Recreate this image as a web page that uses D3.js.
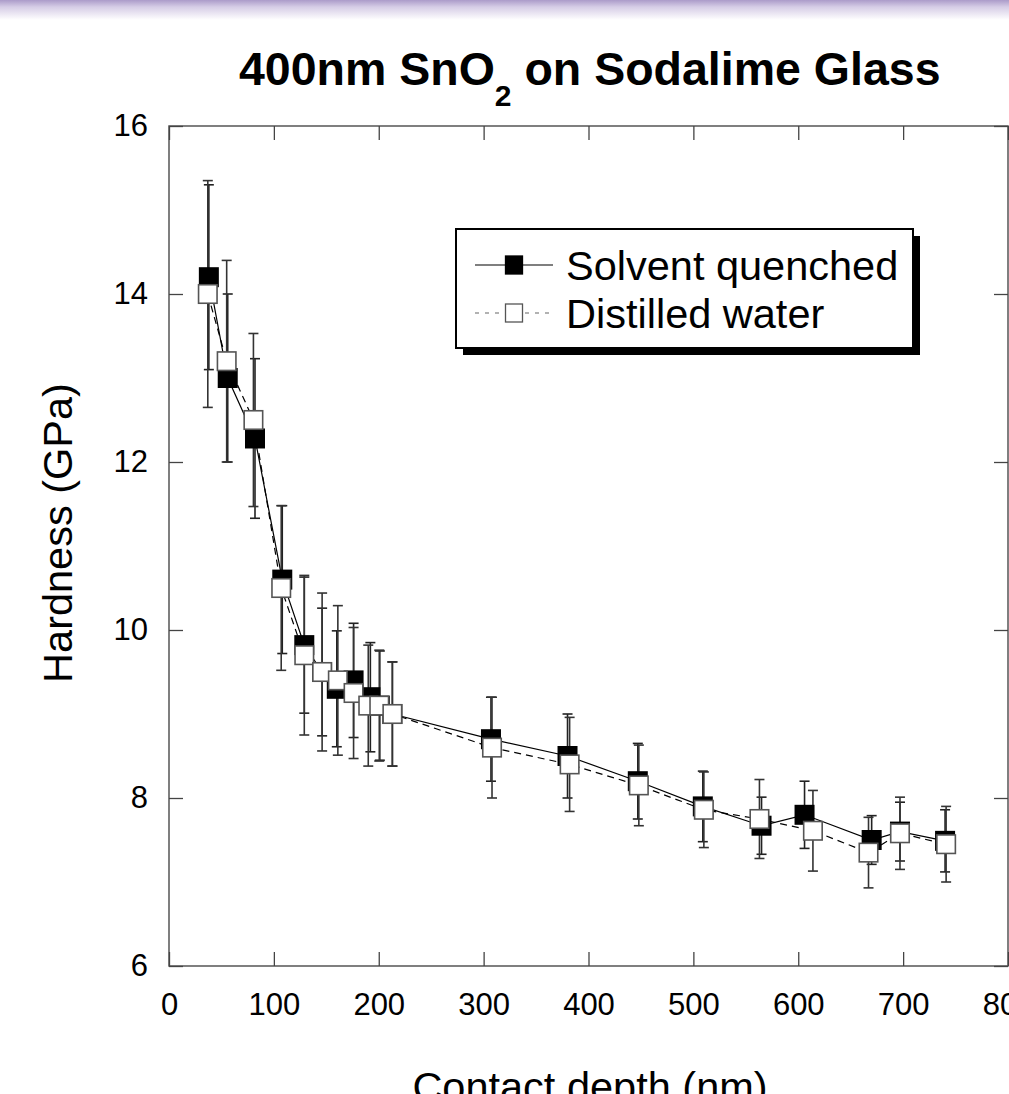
<!DOCTYPE html>
<html>
<head>
<meta charset="utf-8">
<script src="https://cdn.jsdelivr.net/npm/d3@7"></script>
<style>
  html, body { margin: 0; padding: 0; background: #fff; overflow: hidden; }
  svg { display: block; }
  text { font-family: "Liberation Sans", Arial, Helvetica, sans-serif; fill: #000; }
</style>
</head>
<body>
<svg id="chart" width="1009" height="1094"></svg>
<script>
// ---- data ----
const xTicks = [0, 100, 200, 300, 400, 500, 600, 700, 800];
const yTicks = [6, 8, 10, 12, 14, 16];

const seriesNames = ["Solvent quenched", "Distilled water"];

// Solvent quenched
const sqDepth = [38, 56, 82, 108, 129, 146, 160, 176, 192, 201, 213, 307, 380, 447, 509, 565, 606, 670, 697, 740];
const sqHard  = [14.2, 13.0, 12.28, 10.6, 9.82, 9.5, 9.3, 9.4, 9.2, 9.1, 9.0, 8.7, 8.5, 8.2, 7.9, 7.67, 7.8, 7.5, 7.6, 7.49];
const sqErr   = [1.1, 1.0, 0.95, 0.88, 0.81, 0.76, 0.69, 0.68, 0.65, 0.65, 0.62, 0.5, 0.5, 0.45, 0.42, 0.34, 0.4, 0.29, 0.35, 0.37];

// Distilled water
const dwDepth = [37, 55, 80.5, 107, 129, 146, 161, 176, 190, 200.5, 213, 308, 382, 448, 510, 563, 614, 667, 697, 741];
const dwHard  = [14.0, 13.2, 12.5, 10.5, 9.7, 9.5, 9.4, 9.25, 9.1, 9.1, 9.0, 8.6, 8.4, 8.15, 7.86, 7.75, 7.61, 7.35, 7.58, 7.45];
const dwErr   = [1.35, 1.2, 1.03, 0.98, 0.95, 0.94, 0.89, 0.78, 0.72, 0.66, 0.62, 0.6, 0.56, 0.48, 0.45, 0.47, 0.48, 0.42, 0.43, 0.45];

// ---- build ----
(function () {
const svg = d3.select("#chart");
const W = 1009;

// top lavender band
const defs = svg.append("defs");
const grad = defs.append("linearGradient").attr("id", "band").attr("x1", 0).attr("y1", 0).attr("x2", 0).attr("y2", 1);
grad.append("stop").attr("offset", "0%").attr("stop-color", "#ab9bc9");
grad.append("stop").attr("offset", "35%").attr("stop-color", "#d6cde6");
grad.append("stop").attr("offset", "100%").attr("stop-color", "#ffffff");
svg.append("rect").attr("x", 0).attr("y", 0).attr("width", W).attr("height", 20).attr("fill", "url(#band)");

const pL = 169, pR = 1008, pT = 126, pB = 966;
const x = d3.scaleLinear().domain([0, 800]).range([pL, pR]);
const y = d3.scaleLinear().domain([6, 16]).range([pB, pT]);

// title
const title = svg.append("text").attr("x", 239).attr("y", 85)
  .style("font-size", "46.5px").style("font-weight", "bold");
title.append("tspan").text("400nm SnO");
title.append("tspan").attr("dy", 21).style("font-size", "30px").text("2");
title.append("tspan").attr("dy", -21).text(" on Sodalime Glass");

// frame
svg.append("rect").attr("x", pL).attr("y", pT).attr("width", pR - pL).attr("height", pB - pT)
  .attr("fill", "none").attr("stroke", "#555").attr("stroke-width", 1.5);

function styleAxis(g) {
  g.select(".domain").remove();
  g.selectAll(".tick line").attr("stroke", "#444").attr("stroke-width", 1.3);
  g.selectAll(".tick text").style("font-size", "31px").attr("fill", "#000");
}

svg.append("g").attr("transform", `translate(0,${pB})`)
  .call(d3.axisBottom(x).tickValues(xTicks).tickSize(-14).tickPadding(27).tickFormat(d3.format("d")))
  .call(styleAxis);
svg.append("g").attr("transform", `translate(0,${pT})`)
  .call(d3.axisTop(x).tickValues(xTicks).tickSize(-14).tickFormat(""))
  .call(styleAxis);
svg.append("g").attr("transform", `translate(${pL},0)`)
  .call(d3.axisLeft(y).tickValues(yTicks).tickSize(-14).tickPadding(21).tickFormat(d3.format("d")))
  .call(styleAxis);
svg.append("g").attr("transform", `translate(${pR},0)`)
  .call(d3.axisRight(y).tickValues(yTicks).tickSize(-14).tickFormat(""))
  .call(styleAxis);

// axis titles
svg.append("text").attr("transform", `translate(72,533) rotate(-90)`)
  .attr("text-anchor", "middle").style("font-size", "41.5px").text("Hardness (GPa)");
svg.append("text").attr("x", 590).attr("y", 1101)
  .attr("text-anchor", "middle").style("font-size", "41.5px").text("Contact depth (nm)");

// data
const sq = sqDepth.map((d, i) => ({ x: d, y: sqHard[i], e: sqErr[i] }));
const dw = dwDepth.map((d, i) => ({ x: d, y: dwHard[i], e: dwErr[i] }));

const line = d3.line().x(d => x(d.x)).y(d => y(d.y));
svg.append("path").datum(sq).attr("d", line).attr("fill", "none").attr("stroke", "#000").attr("stroke-width", 1.2);
svg.append("path").datum(dw).attr("d", line).attr("fill", "none").attr("stroke", "#000").attr("stroke-width", 1.2)
  .attr("stroke-dasharray", "7,5");

const cap = 5;
function errorBars(data, color) {
  const g = svg.append("g").attr("stroke", color).attr("stroke-width", 1.6);
  data.forEach(d => {
    const cx = x(d.x), y1 = y(d.y + d.e), y2 = y(d.y - d.e);
    g.append("line").attr("x1", cx).attr("x2", cx).attr("y1", y1).attr("y2", y2);
    g.append("line").attr("x1", cx - cap).attr("x2", cx + cap).attr("y1", y1).attr("y2", y1);
    g.append("line").attr("x1", cx - cap).attr("x2", cx + cap).attr("y1", y2).attr("y2", y2);
  });
}
errorBars(sq, "#222");
errorBars(dw, "#333");

const ms = 20;
svg.append("g").selectAll("rect").data(sq).join("rect")
  .attr("x", d => x(d.x) - ms / 2).attr("y", d => y(d.y) - ms / 2)
  .attr("width", ms).attr("height", ms).attr("fill", "#000");
svg.append("g").selectAll("rect").data(dw).join("rect")
  .attr("x", d => x(d.x) - ms / 2 + 0.75).attr("y", d => y(d.y) - ms / 2 + 0.75)
  .attr("width", ms - 1.5).attr("height", ms - 1.5).attr("fill", "#fff")
  .attr("stroke", "#555").attr("stroke-width", 1.6);

// legend
const lg = svg.append("g");
lg.append("rect").attr("x", 463).attr("y", 236).attr("width", 457).attr("height", 119).attr("fill", "#000");
lg.append("rect").attr("x", 456).attr("y", 229).attr("width", 457).attr("height", 119)
  .attr("fill", "#fff").attr("stroke", "#000").attr("stroke-width", 2);
const rows = [
  { name: seriesNames[0], cy: 265, filled: true },
  { name: seriesNames[1], cy: 313, filled: false }
];
rows.forEach(r => {
  lg.append("line").attr("x1", 475).attr("x2", 553).attr("y1", r.cy).attr("y2", r.cy)
    .attr("stroke", r.filled ? "#000" : "#666").attr("stroke-width", 1.2)
    .attr("stroke-dasharray", r.filled ? null : "4,6");
  lg.append("rect").attr("x", 514 - 8.5).attr("y", r.cy - 9).attr("width", 17).attr("height", 18)
    .attr("fill", r.filled ? "#000" : "#fff").attr("stroke", r.filled ? "#000" : "#555").attr("stroke-width", 1.3);
  lg.append("text").attr("x", 566).attr("y", r.cy + 15).style("font-size", "41.5px").text(r.name);
});
})();
</script>
</body>
</html>
